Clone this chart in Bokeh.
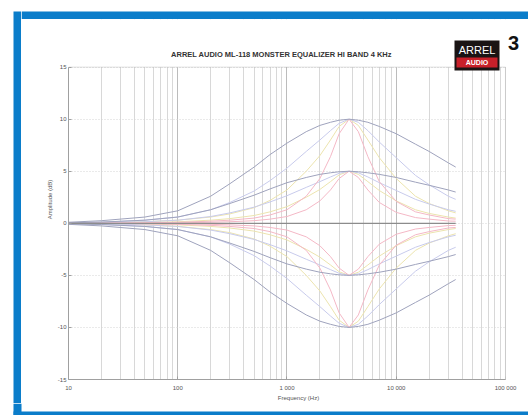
from bokeh.plotting import figure
from bokeh.layouts import row, column
from bokeh.models import FixedTicker, BoxAnnotation, Label, Range1d
from bokeh.embed import file_html
from bokeh.resources import INLINE

# ---------------- data ----------------
title_text = "ARREL AUDIO ML-118 MONSTER EQUALIZER HI BAND 4 KHz"
x_ticks = [10, 100, 1000, 10000, 100000]
x_tick_labels = ["10", "100", "1 000", "10 000", "100 000"]
y_ticks = [-15, -10, -5, 0, 5, 10, 15]
y_tick_labels = ["-15", "-10", "-5", "0", "5", "10", "15"]

freqs = [10, 20, 50, 100, 200, 300, 500, 700, 1000, 1500, 2000, 2500,
         3000, 3700, 4500, 5500, 7000, 10000, 15000, 20000, 30000, 35000]

gray_p10 = [0.1, 0.25, 0.6, 1.2, 2.6, 3.8, 5.4, 6.6, 7.7, 8.8, 9.4, 9.7, 9.9, 10.0, 9.9, 9.7, 9.3, 8.6, 7.6, 6.9, 5.8, 5.4]
gray_p5 = [0.05, 0.12, 0.3, 0.6, 1.3, 1.9, 2.7, 3.3, 3.9, 4.4, 4.7, 4.85, 4.95, 5.0, 4.95, 4.85, 4.7, 4.4, 3.95, 3.65, 3.2, 3.0]
gray_m5 = [-0.05, -0.12, -0.3, -0.6, -1.3, -1.9, -2.7, -3.3, -3.9, -4.4, -4.7, -4.85, -4.95, -5.0, -4.95, -4.85, -4.7, -4.4, -3.95, -3.65, -3.2, -3.0]
gray_m10 = [-0.1, -0.25, -0.6, -1.2, -2.6, -3.8, -5.4, -6.6, -7.7, -8.8, -9.4, -9.7, -9.9, -10.0, -9.9, -9.7, -9.3, -8.6, -7.6, -6.9, -5.8, -5.4]

lav_p10 = [0.05, 0.1, 0.3, 0.6, 1.3, 2.0, 3.1, 4.1, 5.3, 6.9, 8.0, 8.9, 9.6, 10.0, 9.7, 8.9, 7.8, 6.3, 4.6, 3.7, 2.6, 2.3]
lav_p5 = [0.02, 0.05, 0.15, 0.3, 0.65, 1.0, 1.55, 2.05, 2.65, 3.45, 4.0, 4.45, 4.8, 5.0, 4.85, 4.45, 3.9, 3.15, 2.3, 1.85, 1.3, 1.15]
lav_m5 = [-0.02, -0.05, -0.15, -0.3, -0.65, -1.0, -1.55, -2.05, -2.65, -3.45, -4.0, -4.45, -4.8, -5.0, -4.85, -4.45, -3.9, -3.15, -2.3, -1.85, -1.3, -1.15]
lav_m10 = [-0.05, -0.1, -0.3, -0.6, -1.3, -2.0, -3.1, -4.1, -5.3, -6.9, -8.0, -8.9, -9.6, -10.0, -9.7, -8.9, -7.8, -6.3, -4.6, -3.7, -2.6, -2.3]

yel_p10 = [0.02, 0.05, 0.15, 0.3, 0.6, 0.9, 1.5, 2.2, 3.2, 5.0, 6.5, 8.0, 9.3, 10.0, 9.4, 8.0, 6.3, 4.3, 2.6, 1.9, 1.2, 1.0]
yel_p5 = [0.01, 0.02, 0.07, 0.15, 0.3, 0.45, 0.75, 1.1, 1.6, 2.5, 3.25, 4.0, 4.65, 5.0, 4.7, 4.0, 3.15, 2.15, 1.3, 0.95, 0.6, 0.5]
yel_m5 = [-0.01, -0.02, -0.07, -0.15, -0.3, -0.45, -0.75, -1.1, -1.6, -2.5, -3.25, -4.0, -4.65, -5.0, -4.7, -4.0, -3.15, -2.15, -1.3, -0.95, -0.6, -0.5]
yel_m10 = [-0.02, -0.05, -0.15, -0.3, -0.6, -0.9, -1.5, -2.2, -3.2, -5.0, -6.5, -8.0, -9.3, -10.0, -9.4, -8.0, -6.3, -4.3, -2.6, -1.9, -1.2, -1.0]

pink_p10 = [0.0, 0.0, 0.05, 0.1, 0.2, 0.3, 0.5, 0.8, 1.3, 2.6, 4.3, 6.4, 8.6, 10.0, 8.8, 6.4, 4.0, 2.1, 1.1, 0.8, 0.45, 0.4]
pink_p5 = [0.0, 0.0, 0.02, 0.05, 0.1, 0.15, 0.25, 0.4, 0.65, 1.3, 2.15, 3.2, 4.3, 5.0, 4.4, 3.2, 2.0, 1.05, 0.55, 0.4, 0.22, 0.2]
pink_m5 = [0.0, 0.0, -0.02, -0.05, -0.1, -0.15, -0.25, -0.4, -0.65, -1.3, -2.15, -3.2, -4.3, -5.0, -4.4, -3.2, -2.0, -1.05, -0.55, -0.4, -0.22, -0.2]
pink_m10 = [0.0, 0.0, -0.05, -0.1, -0.2, -0.3, -0.5, -0.8, -1.3, -2.6, -4.3, -6.4, -8.6, -10.0, -8.8, -6.4, -4.0, -2.1, -1.1, -0.8, -0.45, -0.4]

flat_freqs = [10, 35000]
flat_db = [0, 0]

# ---------------- helpers ----------------
FONT = "Liberation Sans"
BLUE = "#0b7dca"


def strip(w, h, bars):
    """A plain canvas in pixel units (y grows downward) holding blue bars."""
    s = figure(width=w, height=h, x_range=Range1d(0, w), y_range=Range1d(h, 0),
               output_backend="svg", toolbar_location=None, min_border=0,
               x_axis_location=None, y_axis_location=None, title=None,
               frame_align=False)
    s.grid.visible = False
    s.outline_line_color = None
    s.background_fill_color = "white"
    s.border_fill_color = "white"
    for l, r, t, b in bars:
        s.add_layout(BoxAnnotation(left=l, right=r, top=t, bottom=b,
                                   fill_color=BLUE, fill_alpha=1, line_color=None))
    return s


def box(l, r, t, b, color, **kw):
    return BoxAnnotation(left=l, right=r, top=t, bottom=b,
                         left_units="screen", right_units="screen",
                         top_units="screen", bottom_units="screen",
                         fill_color=color, fill_alpha=1, **kw)


# ---------------- main chart (page x 21..528, y 19..403) ----------------
p = figure(width=507, height=384, x_axis_type="log",
           x_range=Range1d(10, 162400), y_range=Range1d(-15, 19.571),
           output_backend="svg", toolbar_location=None, title=None,
           min_border_left=47, min_border_right=0, min_border_top=0,
           min_border_bottom=21, frame_align=False)
p.background_fill_color = "white"
p.border_fill_color = "white"
p.outline_line_color = None

minor = [m * d for d in (10, 100, 1000, 10000) for m in range(2, 10)]
p.xaxis.ticker = FixedTicker(ticks=x_ticks, minor_ticks=minor)
p.xaxis.major_label_overrides = {t: s for t, s in zip(x_ticks, x_tick_labels)}
p.xaxis.bounds = (10, 100000)
p.yaxis.ticker = FixedTicker(ticks=y_ticks)
p.yaxis.major_label_overrides = {t: s for t, s in zip(y_ticks, y_tick_labels)}
p.yaxis.bounds = (-15, 15)

for ax in (p.xaxis, p.yaxis):
    ax.axis_line_color = "#a0a0a0"
    ax.major_tick_line_color = "#a0a0a0"
    ax.major_tick_in = 3
    ax.major_tick_out = 0
    ax.minor_tick_line_color = None
    ax.major_label_text_font = FONT
    ax.major_label_text_font_size = "6px"
    ax.major_label_text_color = "#555555"
    ax.major_label_text_line_height = 0.9
    ax.axis_label_text_font = FONT
    ax.axis_label_text_font_size = "6px"
    ax.axis_label_text_font_style = "normal"
    ax.axis_label_text_color = "#555555"
    ax.axis_label_text_line_height = 0.9

p.yaxis.major_label_standoff = 2
p.yaxis.axis_label_standoff = 2
p.xaxis.major_label_standoff = 1
p.xaxis.axis_label_standoff = 1

p.xaxis.axis_label = "Frequency (Hz)"
p.yaxis.axis_label = "Amplitude (dB)"

p.xgrid.grid_line_color = "#bcbcbc"
p.xgrid.minor_grid_line_color = "#d8d8d8"
p.ygrid.grid_line_color = "#d4d4d4"
p.ygrid.grid_line_dash = "1 2"

YEL, LAV, PINK, GRAY = "#ece4ae", "#c8cbec", "#f4b8c6", "#9fa3bd"
curves = [
    (yel_p10, YEL), (yel_p5, YEL), (yel_m5, YEL), (yel_m10, YEL),
    (lav_p10, LAV), (lav_p5, LAV), (lav_m5, LAV), (lav_m10, LAV),
    (pink_p10, PINK), (pink_p5, PINK), (pink_m5, PINK), (pink_m10, PINK),
    (gray_p10, GRAY), (gray_p5, GRAY), (gray_m5, GRAY), (gray_m10, GRAY),
]
for ys, col in curves:
    p.line(freqs, ys, line_color=col, line_width=1)
p.line(flat_freqs, flat_db, line_color="#8c8c8c", line_width=1.3)

# white margins above/right of the axes box, then the axes box outline
p.add_layout(BoxAnnotation(bottom=15, fill_color="white", fill_alpha=1, line_color=None))
p.add_layout(BoxAnnotation(left=100000, fill_color="white", fill_alpha=1, line_color=None))
p.add_layout(BoxAnnotation(left=10, right=100000, bottom=-15, top=15, fill_alpha=0,
                           line_color="#a0a0a0", line_width=1))

# logo (screen units: frame left = page x 68, frame bottom = page y 382)
p.add_layout(box(386, 431, 339, 309, "#1a1414", line_color=None))
p.add_layout(box(388, 429, 322, 312, "#c8202a", line_color=None))
p.add_layout(Label(x=408.5, y=330, x_units="screen", y_units="screen", text="ARREL",
                   text_font=FONT, text_font_size="11px",
                   text_color="white", text_align="center", text_baseline="middle"))
p.add_layout(Label(x=408.5, y=317, x_units="screen", y_units="screen", text="AUDIO",
                   text_font=FONT, text_font_size="7px", text_font_style="bold",
                   text_color="white", text_align="center", text_baseline="middle"))

# figure number
p.add_layout(Label(x=445, y=337, x_units="screen", y_units="screen", text="3",
                   text_font=FONT, text_font_size="20px",
                   text_font_style="bold", text_color="#111111",
                   text_align="center", text_baseline="middle"))

# chart title
p.add_layout(Label(x=213, y=325, x_units="screen", y_units="screen", text=title_text,
                   text_font=FONT, text_font_size="7.5px", text_font_style="bold",
                   text_color="#333333", text_align="center", text_baseline="middle"))

# frame strips (pixel units inside each strip)
left_strip = strip(21, 403, [(13, 21, 11, 403)])
top_strip = strip(507, 19, [(0, 507, 11, 19)])
bottom_strip = strip(528, 12, [(13, 21, 0, 12), (13, 528, 8, 12)])

layout = column(row(left_strip, column(top_strip, p)), bottom_strip)
open("out.html", "w").write(file_html(layout, INLINE))
